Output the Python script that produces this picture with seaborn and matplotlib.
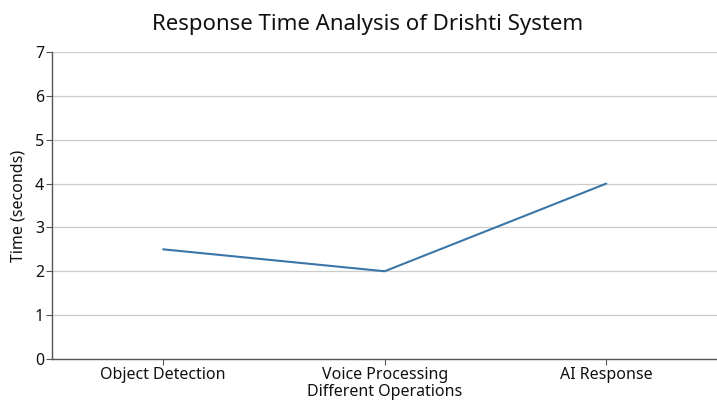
import matplotlib
matplotlib.use("Agg")
import matplotlib.pyplot as plt
import seaborn as sns
import pandas as pd

operations = ["Object Detection", "Voice Processing", "AI Response"]
times = [2.5, 2.0, 4.0]

sns.set_style("whitegrid")
plt.rcParams['font.family'] = ['Noto Sans', 'DejaVu Sans']
plt.rcParams['text.color'] = '#111111'
plt.rcParams['axes.labelcolor'] = '#111111'
plt.rcParams['xtick.color'] = '#111111'
plt.rcParams['ytick.color'] = '#111111'

df = pd.DataFrame({"Operation": operations, "Time": times})

fig, ax = plt.subplots(figsize=(7.17, 4.01), dpi=100)
fig.subplots_adjust(left=0.073, right=1.0, top=0.87, bottom=0.105)

sns.lineplot(data=df, x="Operation", y="Time", ax=ax, color="#3b76a6", linewidth=1.5, sort=False)

ax.set_xlim(-0.5, 2.5)
ax.set_ylim(0, 7)
ax.set_yticks(range(0, 8))
ax.grid(axis="x", visible=False)
ax.grid(axis="y", color="#cccccc", linewidth=0.9)
for s in ["top", "right"]:
    ax.spines[s].set_visible(False)
for s in ["left", "bottom"]:
    ax.spines[s].set_color("#555555")
    ax.spines[s].set_linewidth(1.0)
ax.tick_params(axis="both", which="both", length=4, color="#555555", labelsize=11.5, bottom=True, left=True, pad=2)

ax.set_title("Response Time Analysis of Drishti System", fontsize=16, pad=16, x=0.474)
ax.set_xlabel("Different Operations", fontsize=11.5)
ax.xaxis.set_label_coords(0.5, -0.083)
ax.set_ylabel("Time (seconds)", fontsize=11.5, labelpad=6)

fig.savefig("out.png", dpi=100)
